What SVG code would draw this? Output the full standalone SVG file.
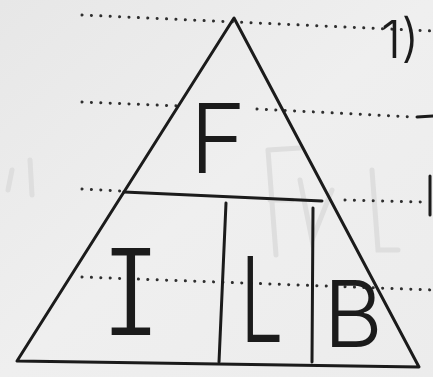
<svg xmlns="http://www.w3.org/2000/svg" width="433" height="377" viewBox="0 0 433 377">
<defs>
<linearGradient id="bg" x1="0" y1="0" x2="1" y2="1">
<stop offset="0" stop-color="#e7e7e7"/>
<stop offset="0.5" stop-color="#efefef"/>
<stop offset="1" stop-color="#ececec"/>
</linearGradient>
</defs>
<style>
.ink{stroke:#1b1b1b;stroke-width:3;fill:none;stroke-linecap:round;stroke-linejoin:round}
.dot{stroke:#2e2e2e;stroke-width:3;fill:none;stroke-linecap:round;stroke-dasharray:0.1 9.3}
.ghost{stroke:#dedede;stroke-width:5;fill:none;stroke-linecap:round}
.lbl{font-family:Inter,Roboto,"Open Sans","DejaVu Sans",sans-serif;font-weight:320;fill:#1b1b1b}
</style>
<rect width="433" height="377" fill="url(#bg)"/>
<g id="ghosts">
<path class="ghost" d="M268 150 L276 255 M268 150 L300 148 M270 200 L292 200"/>
<path class="ghost" d="M300 180 L312 240 L332 190"/>
<path class="ghost" d="M372 170 L378 250 L398 250"/>
<path class="ghost" d="M12 170 L8 190 M30 160 L32 195"/>
</g>
<g id="rules">
<line class="dot" x1="82" y1="15" x2="433" y2="31"/>
<line class="dot" x1="82" y1="102" x2="180" y2="106"/>
<line class="dot" x1="257" y1="109" x2="414" y2="117"/>
<line class="dot" x1="82" y1="189" x2="122" y2="191"/>
<line class="dot" x1="345" y1="200" x2="424" y2="202"/>
<line class="dot" x1="82" y1="277" x2="433" y2="290"/>
</g>
<g id="connectors">
<path class="ink" d="M234 18 L17 361 L419 367 Z"/>
<line class="ink" x1="124" y1="192" x2="322" y2="201"/>
<line class="ink" x1="226" y1="203" x2="219" y2="362"/>
<line class="ink" x1="313" y1="208" x2="312" y2="362"/>
<line class="ink" x1="417" y1="117" x2="433" y2="116"/>
<line class="ink" stroke-width="5" x1="430" y1="176" x2="430" y2="215"/>
</g>
<g id="node-F"><text class="lbl" x="218" y="173" font-size="96" text-anchor="middle">F</text></g>
<g id="node-I"><text class="lbl" x="131" y="335" font-size="120" text-anchor="middle" style="font-feature-settings:'cv08'">I</text></g>
<g id="node-L"><text class="lbl" transform="translate(262 342) scale(0.65 1)" font-size="118" text-anchor="middle">L</text></g>
<g id="node-B"><text class="lbl" x="353" y="347" font-size="92" text-anchor="middle">B</text></g>
<g id="note"><text class="lbl" x="400" y="58" font-size="52" font-weight="600" text-anchor="middle">1)</text></g>
</svg>
